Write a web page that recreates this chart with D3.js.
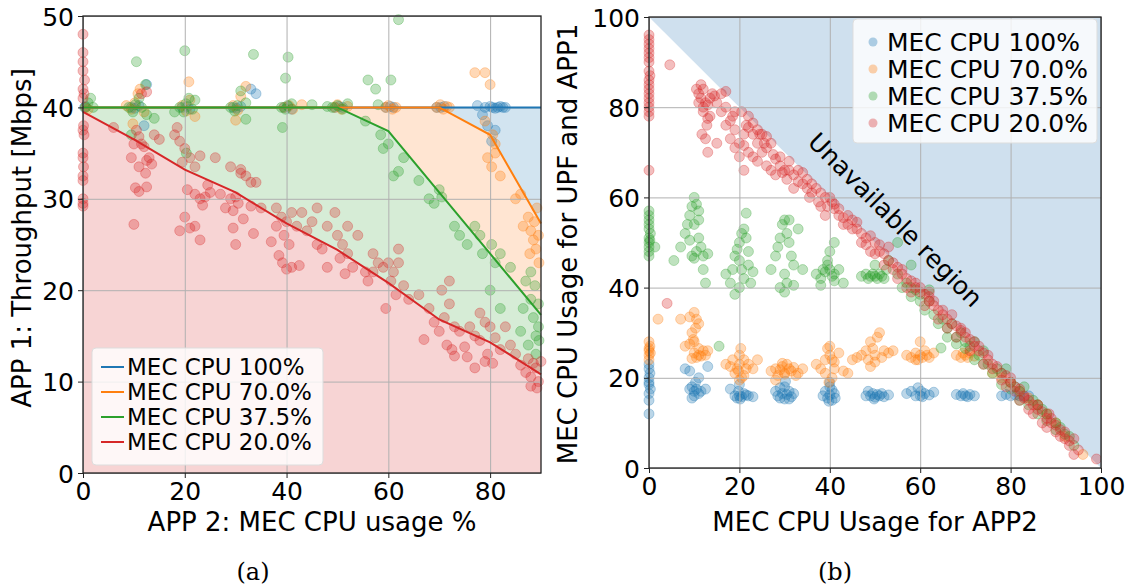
<!DOCTYPE html>
<html>
<head>
<meta charset="utf-8">
<script src="https://cdn.jsdelivr.net/npm/d3@7"></script>
<style>
  body { margin: 0; background: #fff; }
  text { font-family: "DejaVu Sans", sans-serif; fill: #000; }
</style>
</head>
<body>
<div id="chart"></div>
<script>
// series names + colours (matplotlib tab10)
var seriesNames = ['MEC CPU 100%', 'MEC CPU 70.0%', 'MEC CPU 37.5%', 'MEC CPU 20.0%'];
var seriesColors = ['#1f77b4', '#ff7f0e', '#2ca02c', '#d62728'];
var fillColors = ['#d2e4f0', '#ffe5d2', '#d6ecd6', '#f7d4d4'];

// (a) model lines: APP2 cpu usage vs APP1 throughput
var lineX = [0, 10, 20, 30, 40, 50, 60, 70, 80, 90];
var lineBlue = [40, 40, 40, 40, 40, 40, 40, 40, 40, 40];
var lineOrange = [40, 40, 40, 40, 40, 40, 40, 40, 37, 27.3];
var lineGreen = [40, 40, 40, 40, 40, 40, 37.4, 30.7, 24.0, 17.3];
var lineRed = [39.5, 36.5, 33.2, 30.7, 27.3, 24.4, 20.8, 16.8, 14.3, 10.8];

// (a) measured points [cpu %, Mbps]
var leftBlue = [[0.3,40],[0.5,40.1],[9.5,40],[10.2,39.9],[11,40.2],[12,38],[12.5,42.5],[19.5,40],[20.5,40.1],[21,39.8],
  [29.5,40],[30.2,39.9],[31,40.1],[33,42],[34,41.5],[39.5,40],[40.3,40.1],[41,39.8],[49.5,40],[50.3,40.1],[51,40],
  [59.5,40],[60.4,40.1],[61,40],[69.5,40],[70.3,40],[71,40.1],[77.5,40.2],[79,40],[80,40.1],[80.5,40],[81,39.9],
  [81.5,40],[82,40.1],[82.5,40],[83,40],[79.5,38],[81,37.5],[78.5,39.2],[80.3,36.3]];
var leftOrange = [[0.5,40],[1,39.8],[8.5,40.2],[9.5,39.8],[10.2,40.5],[10.8,41.5],[11.2,42],[9.8,38.2],[12,39.5],
  [19.5,40.2],[20.3,39.6],[21,40.8],[20.8,42.8],[22,39],[29.5,40.2],[30.4,39.7],[31,41.2],[32,42.3],[30,38.6],
  [39.5,40],[40.5,40.2],[41.2,39.8],[43,40.3],[49.5,40],[50,40.3],[50.8,39.8],[52,40.1],[59.5,40],[60,40.2],
  [60.8,39.8],[61.5,40],[69.5,40],[70.2,40.3],[70.8,39.8],[71.5,40.1],[72,40],[77,43.8],[79,43.8],[80,42.5],
  [79,38.5],[80.5,37],[81,36],[79.5,34.5],[80.3,33.5],[81,35],[82,32.5],[85,30],[86,30.5],[87.5,28],[88,26.5],
  [88.5,25.5],[89,24.5],[89.5,26],[88.7,27.5],[89.2,29],[87.8,24],[89.6,23],[86.5,27]];
var leftGreen = [[0.5,40],[1,40.5],[1.5,41],[2,40],[9,40],[9.8,39.5],[10.3,40.3],[11,41],[11.5,40],[10.5,45],
  [12.3,42.5],[12.5,39.2],[9.5,37],[14,38.8],[19,40],[19.8,39.5],[20.2,40.4],[20.8,41],[21.5,39.8],[20,46.2],
  [18,39.5],[22,40.8],[20.3,35],[29,40],[29.8,39.6],[30.3,40.2],[31,41.8],[32,40.5],[33.5,45.8],[32,38.7],
  [39,40],[39.8,39.8],[40.2,40.2],[41,40.4],[39.8,43.2],[40.3,45.5],[39.2,37.8],[45,40.3],[48,40.1],[49,40],
  [50,40.2],[51,39.8],[52,40.4],[56,43],[57.5,42],[58,40.3],[60.5,43],[62,49.6],[55.5,38.5],[58.5,37],[59,35.5],
  [60,36],[62,33],[63,34.5],[61,32.5],[66,32],[68,30],[69,29.5],[70,31],[70.5,30.2],[73,27],[74,26],[75.5,25],
  [77,27],[78,26],[78.5,24],[80.3,25],[81,23],[82,24],[84,22.5],[87,21],[88,19],[88.5,17],[89,15],[89.5,16],
  [87.5,14],[89,13],[86.5,18],[88,22],[80,20],[82,18],[89.5,18.5],[88.8,20.5],[89.6,14.5],[86,15.5]];
var leftRed = [[0,48],[0,46],[0,45],[0,44],[0.3,43],[0,42],[0.2,41.5],[0,41],[0.1,38],[0,37.5],[0.2,37],[0,35],
  [0,34.5],[0.1,33.5],[0,32.5],[0,32],[0,30],[0,29.5],[0,29.2],
  [6,37.8],[9.5,34.5],[10,36],[10.5,37.5],[11,36.8],[11.5,36],[12,35.7],[12.5,34.2],[13,34.5],[13.5,33.8],[11,33.5],
  [12.3,32.8],[11.5,41.5],[12.5,41.7],[10.3,31.2],[11,30.8],[12.5,31.3],[10,27.2],[14,37],[15,36.5],
  [18,37],[18.5,37.8],[19,36.3],[20,35.5],[21,34.5],[19.5,34],[22,33.5],[23,34.7],[20.5,31],[22,30.5],[23,30],
  [24,30.2],[25,30.7],[23.5,29.3],[20,28],[22,27],[21,26.8],[19,26.5],[23,25.5],[24.5,31.5],
  [27,30.5],[28,29],[29,30],[30,30.2],[31,32.8],[32,32.5],[33,31.8],[34,31.8],[29.5,28.7],[30.5,29.5],[31.5,27.8],
  [33,29.2],[35,29],[29.5,26.8],[30,25],[33.5,26.2],[37,25.3],[26,34.5],[31,33.2],[29,33.5],
  [38,29],[39,28],[40,27.5],[41,28.5],[42,27],[39.5,26],[40.5,25],[38.5,23.8],[39.2,23],[40,22.3],[41,22.5],
  [43,28.5],[45,27.5],[44,26.5],[46,25],[47,24.5],[42.5,22.7],[38,27],
  [46,29],[48,27],[49.5,28.5],[50,26],[51,25],[52,27],[50.5,23.5],[52,24],[53,22.5],[51.5,21.8],[54,26],[55.5,22],
  [56,21],[48,22.5],[57,24],
  [57,22],[58,23],[59,22.5],[60,23],[61,22],[62,23],[60.5,21],[63,20.5],[61.5,19.5],[59.5,18],[64,19],[66,19.5],[62,24.5],
  [67,14.6],[68,18],[69,16.5],[70,15.5],[71,17],[72,18.5],[73,16],[71.5,14],[74,15.5],[72.5,13.5],[73,12.8],
  [75,13.8],[70.5,20],[72,21],
  [76,16],[77,15],[78,17.5],[79,16.5],[80,16],[78,14.5],[79.5,13],[81,14.8],[82,13.5],[80.5,12],[77,11.5],
  [75.5,12.7],[79,12.2],[83,16],[84,14],[85,13],
  [87,11],[88,10.5],[88.5,12],[89,11.5],[89.5,10],[88,9.5],[90,12.2],[89.2,9.3],[87.5,12.5],[86,11.8]];

// (b) points [APP2 cpu %, UPF+APP1 cpu %]
var rightBlue = [[0,12],[0,15],[0,16.5],[0.3,17.5],[0,18.5],[0,19],[0,20],[0.2,21],[0,22],[0,23],
  [8,22],[9,21.5],[9.5,18],[10,17],[10.5,17.5],[11,16.5],[10,16],[9.5,15.5],[11.5,17],[12.5,17.5],[13,22.5],
  [11,20],[10.3,19],[9,17.5],
  [18,17.5],[19,16],[19.5,15.5],[20,16],[20.5,15.8],[21,16.5],[19.8,17],[20.2,15.3],[21.5,16.2],[22,16],[23,15.8],[20,18.5],
  [28,17],[28.5,16],[29,15.5],[29.5,16.5],[30,15.3],[30.5,16.3],[31,17],[31.5,15.8],[30,18],[30.2,19.2],[29,17.8],
  [32,16.5],[31,15.3],
  [38.5,16],[39,17],[39.5,15.5],[40,16.2],[40.5,15],[41,16.5],[40,18],[40.5,17.3],[39.8,14.8],[41.2,15.5],[40,19],
  [48,16],[48.5,17],[49,16],[49.5,16.5],[50,15.7],[50.5,16.3],[51,16],[51.5,16.5],[52,15.8],[53,16.2],[49.8,15.3],
  [57,16.5],[58,17],[59,16],[59.5,17.8],[60,16],[60.5,15.8],[61,16.5],[62,16.2],[63,16.8],[60.2,17],
  [68,16.3],[69,16],[69.5,16.5],[70,16],[70.5,15.8],[71,16.3],[72,16],
  [78,16],[79,16.3],[80,16],[81,16.2],[82,16],[83,15.8],[84,16]];
var rightOrange = [[0,24],[0,25],[0,26],[0.2,27],[0,28],[0,26.5],[0.3,25.5],[2,33],
  [7,33],[9,33.5],[10,34.5],[10.5,33],[11,32],[10.3,31],[9.5,30],[9.8,28.5],[8,27],[9,27.5],[10,28],[10,25.5],
  [10.5,24.5],[11,25],[11.5,24.8],[12,26],[12.5,25],[13,26],[9.5,24.3],[11,26.5],
  [17,23],[18,22.5],[18.5,24],[19,21],[19.5,22],[20,23],[20,25],[20.3,26.5],[21,24],[21.5,22],[20.5,20],[22,23],
  [23,22],[24,24],[19.8,21.5],[21,20.5],[20,19.5],
  [27,21.5],[28,22],[28.5,20.5],[29,21.8],[29.5,22.5],[30,21],[30.5,23],[31,22],[31.5,21.5],[32,22.3],[33,21],
  [34,22],[30,20.8],[28,19.5],[32.5,20.5],[29.5,23.2],
  [37,23],[38,22],[39,24],[39.5,26.5],[40,25],[40.5,24],[41,23.5],[39,21],[40.5,20],[41,22],[42,25.5],[43,21.5],
  [44,21],[45,24],[46,24.5],[39.8,19],[40,27],
  [47,25],[48,26],[48.5,24],[49,28],[49.5,26.5],[50,25],[50.5,29],[51,30],[51.5,24.5],[52,26],[53,25.5],[50,23.5],
  [49,22.5],[54,26],
  [57,25],[58,24.5],[59,25.5],[59.5,24],[60,25],[60.5,24.5],[61,26],[61.5,25],[62,24.5],[63,25.5],[60,28],[59,24],
  [68,25],[69,24.5],[69.5,25.5],[70,25],[70.5,24.5],[71,25.5],[72,24.8],
  [76,21],[78,20],[80,19],[82,17],[84,15.5],[86,14],[88,12],[90,10],[92,7],[96,3]];
var rightGreen = [[0,47],[0,48],[0,49],[0,50],[0,51],[0.3,52],[0,53],[0,54],[0,55],[0,56],[0,57],[0.2,50.5],[1.3,49],
  [7,49],[8,52],[8.5,54],[9,56],[9.5,58],[10,60],[10.5,58.5],[11,57],[10,54],[11,51],[10.5,48],[9.5,47],[10,46.5],
  [11.5,49],[12,47],[12,44],[12.5,41],[9,50.5],[11,55],[13,47.5],[5.5,46],[15.5,27],
  [17,43],[18,41],[18.5,44],[19,47],[19.5,48.5],[20,50],[20.5,52],[21,53],[21.5,51],[22,48],[20,46],[20.5,44],
  [21,42],[22,45],[20,40],[19,38.5],[22.5,41],[23,43.5],[21.5,56.5],
  [27,44],[28,47],[28.5,49],[29,51],[29.5,54],[30,55],[30.5,52],[31,50],[31.5,47],[32,45],[30,43],[30.5,41],
  [29,40],[30,39],[33,53],[31,55],[32,40.5],[34,44],
  [37,43],[38,42],[38.5,44],[39,43.5],[39.5,45],[40,44],[40.5,42.5],[41,43],[40,48],[41,50],[39.5,46],[42,44],
  [43,41],[38,40.5],[41,41.5],
  [47,42.5],[48,43],[48.5,42],[49,42.5],[49.5,43],[50,42.5],[50.5,42],[51,43],[51.5,42.5],[52,42],[50,45],[52.5,44],
  [53,46],[55,43],[57,41],[58,40],[59,39.5],[60,37],[62,37],[63,34],[65,33],[66,31],[67,32],[68,29],[69,30],
  [70,28],[71,27],[72,28],[73,25],[74,26],[75,23],[77,22],[78,21],[79,22],[80,19],[81,18],[82,17],[83,18],
  [85,15],[86,14],[87,13],[88,12],[90,10],[91,9],[93,7],[58,45],[55,50],
  [56,40],[58,38],[60,38.5],[61,35],[62,39.5],[64,32],[64.6,26.6],[66,29],[68,27.5],[70,26.5],[72,24],[74,23],
  [76,21],[78,18.5],[80,17.5],[82,15],[84,14],[86,12],[88,10.5],[90,8.5],[92,7.5],[94,5]];
var rightRed = [[0,78],[0,79],[0,80],[0,81],[0,82],[0,83],[0,84],[0,85],[0,86],[0.2,87],[0,88],[0,90],[0,91],
  [0,92],[0,93],[0,94],[0,95],[0,96],[0,66],[4.6,89.4],[4,36.5],
  [10.5,84],[11,83],[11,81],[11.5,82],[12,80],[12,79],[12.5,81],[13,80.5],[13.5,78],[12.8,76],[13,77.5],[11.7,74],
  [12.5,73],[13.5,82],[14,83],[14.5,82.5],[15,81],[16,83],[17,83.5],[13,70],[11.5,85],[12,84],
  [17,76],[18,73],[18.5,78],[19,75],[20,72],[20.5,79],[21,74],[21.5,76],[22,70],[22,75.5],[23,74],[24,72],
  [24.5,74],[25,70],[25.5,72],[26,71],[27,72],[27.5,69.5],[28,68.5],[20,69],[21,66],[23,69],[28,65],[29,67],
  [29.5,65.5],[30,66],[30.5,64],[31,66],[32,65],[32,62],[33,63.5],[34,63],[35,62],[35.5,60],[36,63],[37,62],
  [37.5,59],[38,61],[39,60],[39.5,58],[40,60],[40.5,59],[41,57.5],[42,56],[43,55.5],[44,56],[45,55],[46,53],
  [47,52],[48,51],[50,50],[51,48],[52,47.5],[53,46],[54,44],[55,44.5],[56,43],[57,42],[58,41.5],[59,40],[60,39],
  [61,38.5],[62,37],[63,36],[64,35],[65,34],[66,33],[67,32],[68,31.5],[69,30.5],[70,29],[71,28.5],[72,27],
  [73,26],[74,25.5],[75,24],[76,23],[77,22.5],[78,21],[79,20.5],[80,19],[81,18],[82,17.5],[83,16],[84,15],
  [85,14],[86,13],[87,12.5],[88,11],[88.5,12],[89,10],[90,9.5],[91,8.5],[92,8],[93,6],[94,6.5],[99,2],[53,49],
  [49,51.5],[62,39],[67,34],
  [15,72],[16,79],[17,80],[18,77],[19,79],[22,78],[23,76.5],[24,75],[25,74],[26,73.5],[19,71],[21,71.5],[24,68],
  [26,67],[27,66],[29,69],[31,68],[33,66],[34,65.5],[35,64],[36,61],[38,58],[39,56],[41,58.5],[42,57.5],[43,54],
  [44,54],[45,53],[46,54.5],[47,50],[48,49.5],[49,48],[50,47.5],[51,49.5],[52,45],[54,45.5],[55,42],[56,44],
  [57,40],[58,39],[59,41],[60,40],[61,36],[62,38],[63,37],[64,33],[65,35],[66,31],[68,29],[69,31],[70,30],
  [71,26],[72,28],[73,27],[74,23],[75,25],[76,22],[78,19.5],[79,18],[80,20],[81,17],[82,15],[83,15.5],[84,13],
  [85,12],[86,14],[87,10],[88,9],[89,11],[90,8],[91,7],[92,6.5],[93,5],[95,4],[94,3]];

var leftTicksX = [0, 20, 40, 60, 80];
var leftTicksY = [0, 10, 20, 30, 40, 50];
var rightTicks = [0, 20, 40, 60, 80, 100];

var W = 1144, H = 587;
var svg = d3.select('#chart').append('svg')
  .attr('width', W).attr('height', H);

function dots(g, pts, color, xs, ys) {
  g.append('g').selectAll('circle')
    .data(pts).enter().append('circle')
    .attr('cx', function(d) { return xs(d[0]); })
    .attr('cy', function(d) { return ys(d[1]); })
    .attr('r', 5)
    .attr('fill', color)
    .attr('fill-opacity', 0.3)
    .attr('stroke', color)
    .attr('stroke-opacity', 0.3)
    .attr('stroke-width', 1);
}

function grid(g, xs, ys, xt, yt) {
  var h = ys.range()[0] - ys.range()[1], w = xs.range()[1] - xs.range()[0];
  g.append('g').attr('transform', 'translate(0,' + ys.range()[0] + ')')
    .call(d3.axisBottom(xs).tickValues(xt).tickSize(-h).tickFormat(''))
    .call(function(a) { a.select('.domain').remove(); })
    .selectAll('line').attr('stroke', '#b0b0b0').attr('stroke-width', 1);
  g.append('g').attr('transform', 'translate(' + xs.range()[0] + ',0)')
    .call(d3.axisLeft(ys).tickValues(yt).tickSize(-w).tickFormat(''))
    .call(function(a) { a.select('.domain').remove(); })
    .selectAll('line').attr('stroke', '#b0b0b0').attr('stroke-width', 1);
}

function frame(g, xs, ys, xt, yt) {
  g.append('rect')
    .attr('x', xs.range()[0]).attr('y', ys.range()[1])
    .attr('width', xs.range()[1] - xs.range()[0]).attr('height', ys.range()[0] - ys.range()[1])
    .attr('fill', 'none').attr('stroke', '#222').attr('stroke-width', 1.3);
  var ax = g.append('g').attr('transform', 'translate(0,' + ys.range()[0] + ')')
    .call(d3.axisBottom(xs).tickValues(xt).tickSize(5).tickPadding(4));
  var ay = g.append('g').attr('transform', 'translate(' + xs.range()[0] + ',0)')
    .call(d3.axisLeft(ys).tickValues(yt).tickSize(5).tickPadding(4));
  [ax, ay].forEach(function(a) {
    a.select('.domain').remove();
    a.selectAll('text').style('font-size', '25px').attr('font-family', 'DejaVu Sans');
    a.selectAll('line').attr('stroke', '#222');
  });
  ay.selectAll('text').attr('dy', '0.36em');
}

// ---------- (a) ----------
var xL = d3.scaleLinear().domain([0, 90]).range([83, 541]);
var yL = d3.scaleLinear().domain([0, 50]).range([473, 16]);

var gA = svg.append('g');
var lineSets = [lineBlue, lineOrange, lineGreen, lineRed];

// stacked fills under each line
lineSets.forEach(function(vals, i) {
  var area = d3.area()
    .x(function(d, j) { return xL(lineX[j]); })
    .y0(yL(0))
    .y1(function(d) { return yL(d); });
  gA.append('path').datum(vals)
    .attr('d', area)
    .attr('fill', fillColors[i]);
});

[leftBlue, leftOrange, leftGreen, leftRed].forEach(function(pts, i) {
  dots(gA, pts, seriesColors[i], xL, yL);
});

grid(gA, xL, yL, leftTicksX, leftTicksY);

lineSets.forEach(function(vals, i) {
  var line = d3.line()
    .x(function(d, j) { return xL(lineX[j]); })
    .y(function(d) { return yL(d); });
  gA.append('path').datum(vals)
    .attr('d', line)
    .attr('fill', 'none')
    .attr('stroke', seriesColors[i])
    .attr('stroke-width', 2);
});

frame(gA, xL, yL, leftTicksX, leftTicksY);

gA.append('text')
  .attr('x', 312).attr('y', 531)
  .attr('text-anchor', 'middle')
  .style('font-size', '26px')
  .text('APP 2: MEC CPU usage %');
gA.append('text')
  .attr('transform', 'translate(31,238) rotate(-90)')
  .attr('text-anchor', 'middle')
  .style('font-size', '26px')
  .text('APP 1: Throughput [Mbps]');

// legend (a)
var legA = gA.append('g').attr('transform', 'translate(92,348)');
legA.append('rect')
  .attr('width', 231).attr('height', 117).attr('rx', 4)
  .attr('fill', '#fff').attr('fill-opacity', 0.8)
  .attr('stroke', '#ddd');
seriesNames.forEach(function(name, i) {
  var y = 19 + i * 25;
  legA.append('line')
    .attr('x1', 9).attr('x2', 32).attr('y1', y).attr('y2', y)
    .attr('stroke', seriesColors[i]).attr('stroke-width', 2);
  legA.append('text')
    .attr('x', 35).attr('y', y + 8)
    .style('font-size', '23px')
    .text(name);
});

svg.append('text')
  .attr('x', 253).attr('y', 580)
  .attr('text-anchor', 'middle')
  .style('font-family', '"DejaVu Serif", serif')
  .style('font-size', '24px')
  .text('(a)');

// ---------- (b) ----------
var xR = d3.scaleLinear().domain([0, 100]).range([649, 1101]);
var yR = d3.scaleLinear().domain([0, 100]).range([468, 17]);
var gB = svg.append('g');

// unavailable triangle
gB.append('path')
  .attr('d', d3.line()([[xR(0), yR(100)], [xR(100), yR(100)], [xR(100), yR(0)]]) + 'Z')
  .attr('fill', '#cfe0ee');

[rightBlue, rightOrange, rightGreen, rightRed].forEach(function(pts, i) {
  dots(gB, pts, seriesColors[i], xR, yR);
});

grid(gB, xR, yR, rightTicks, rightTicks);
frame(gB, xR, yR, rightTicks, rightTicks);

gB.append('text')
  .attr('x', 875).attr('y', 531)
  .attr('text-anchor', 'middle')
  .style('font-size', '26px')
  .text('MEC CPU Usage for APP2');
gB.append('text')
  .attr('transform', 'translate(577,244) rotate(-90)')
  .attr('text-anchor', 'middle')
  .style('font-size', '26px')
  .text('MEC CPU Usage for UPF and APP1');

gB.append('text')
  .attr('transform', 'translate(' + xR(54.5) + ',' + yR(55) + ') rotate(45)')
  .attr('text-anchor', 'middle')
  .attr('dominant-baseline', 'central')
  .style('font-size', '25px')
  .text('Unavailable region');

// legend (b)
var legB = gB.append('g').attr('transform', 'translate(853,19)');
legB.append('rect')
  .attr('width', 244).attr('height', 124).attr('rx', 4)
  .attr('fill', '#fff').attr('fill-opacity', 0.8)
  .attr('stroke', '#ddd');
seriesNames.forEach(function(name, i) {
  var y = 23 + i * 27;
  legB.append('circle')
    .attr('cx', 20).attr('cy', y)
    .attr('r', 4.5)
    .attr('fill', seriesColors[i]).attr('fill-opacity', 0.35);
  legB.append('text')
    .attr('x', 34).attr('y', y + 9)
    .style('font-size', '25px')
    .text(name);
});

svg.append('text')
  .attr('x', 835).attr('y', 580)
  .attr('text-anchor', 'middle')
  .style('font-family', '"DejaVu Serif", serif')
  .style('font-size', '24px')
  .text('(b)');
</script>
</body>
</html>
